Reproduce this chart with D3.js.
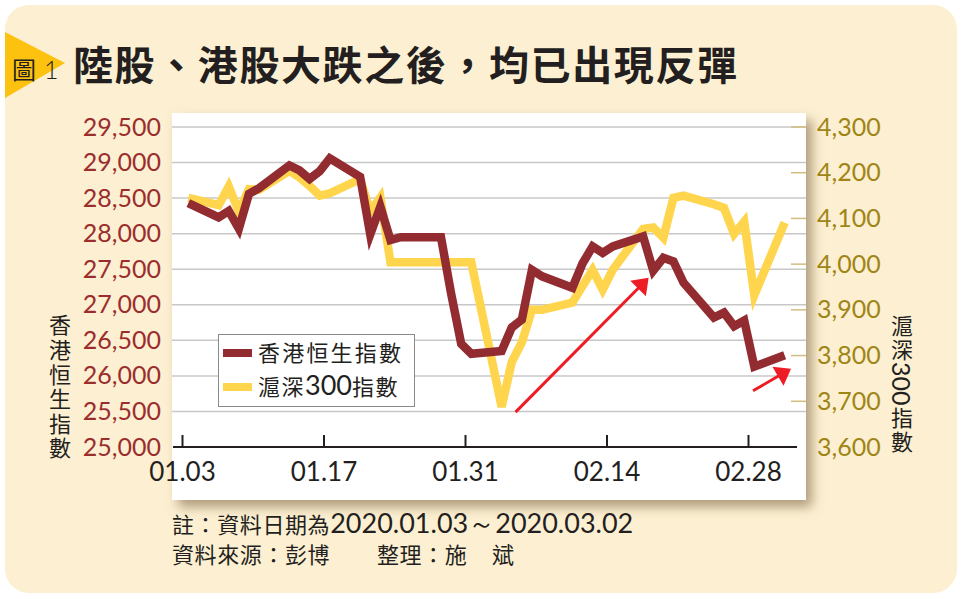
<!DOCTYPE html>
<html><head><meta charset="utf-8">
<script src="https://cdn.jsdelivr.net/npm/d3@7"></script>
<style>body{margin:0;background:#fff}</style>
</head><body><svg id="c" width="962" height="599"></svg>
<script>
// ---------- data ----------
const dates = ["2020-01-03","2020-01-06","2020-01-07","2020-01-08","2020-01-09","2020-01-10",
"2020-01-13","2020-01-14","2020-01-15","2020-01-16","2020-01-17",
"2020-01-20","2020-01-21","2020-01-22","2020-01-23","2020-01-24",
"2020-01-27","2020-01-28","2020-01-29","2020-01-30","2020-01-31",
"2020-02-03","2020-02-04","2020-02-05","2020-02-06","2020-02-07",
"2020-02-10","2020-02-11","2020-02-12","2020-02-13","2020-02-14",
"2020-02-17","2020-02-18","2020-02-19","2020-02-20","2020-02-21",
"2020-02-24","2020-02-25","2020-02-26","2020-02-27","2020-02-28","2020-03-02"];
const hsiValues = [28430,28230,28320,28070,28560,28640,
28960,28890,28770,28880,29060,
28800,27990,28380,27910,27950,
27950,27950,27160,26450,26310,
26350,26680,26790,27490,27400,
27240,27580,27820,27730,27820,
27960,27480,27660,27610,27310,
26820,26890,26700,26780,26130,26290];
const csiValues = [4145,4129,4170,4115,4164,4163,
4204,4190,4171,4150,4155,
4186,4115,4146,4004,4004,
4004,4004,4004,4004,4004,
3688,3786,3829,3900,3900,
3916,3952,3987,3944,3988,
4077,4080,4058,4145,4150,
4131,4123,4066,4093,3932,4091];
const seriesNames = ["香港恒生指數","滬深300指數"];
const leftTicks = [25000,25500,26000,26500,27000,27500,28000,28500,29000,29500];
const rightTicks = [3600,3700,3800,3900,4000,4100,4200,4300];
const xTickDates = ["2020-01-03","2020-01-17","2020-01-31","2020-02-14","2020-02-28"];
const xTickLabels = ["01.03","01.17","01.31","02.14","02.28"];
// annotation arrows (date, HSI-scale value)
const arrowStartDates = ["2020-02-05T00:00","2020-02-28T12:00"];
const arrowStartValues = [25490,25790];
const arrowEndDates = ["2020-02-18T04:00","2020-03-03T06:00"];
const arrowEndValues = [27380,26100];
const titleText = "陸股、港股大跌之後，均已出現反彈";
const figLabel = "圖";
const figNum = "1";
const leftTitle = "香港恒生指數";
const rightTitleParts = ["滬深","300","指數"];
const note1Cjk = "註：資料日期為";
const note1Num = "2020.01.03～2020.03.02";
const note2a = "資料來源：彭博";
const note2b = "整理：施";
const note2c = "斌";

// ---------- styles ----------
const CJK = "'Noto Sans CJK TC','Noto Sans CJK SC',sans-serif";
const NUM = "Lato,'Noto Sans',sans-serif";
const cHSI = "#932c30", cCSI = "#ffd54d", cArrow = "#ee1c25";
const cLeft = "#9b2d2d", cRight = "#a08516";

const svg = d3.select("#c");
const defs = svg.append("defs");
const f = defs.append("filter").attr("id","sh").attr("x","-10%").attr("y","-10%").attr("width","130%").attr("height","130%");
f.append("feDropShadow").attr("dx",6).attr("dy",7).attr("stdDeviation",6)
  .attr("flood-color","#7a6440").attr("flood-opacity",0.6);

// background
svg.append("rect").attr("x",5).attr("y",5).attr("width",952).attr("height",588).attr("rx",24).attr("fill","#fdf0d2");

// title marker
svg.append("polygon").attr("points","5,32 5,98 65,63").attr("fill","#fdc20f");
svg.append("text").attr("x",12).attr("y",79).attr("font-family",CJK).attr("font-size",24).attr("fill","#231f20").text(figLabel);
svg.append("text").attr("x",44).attr("y",79).attr("font-family",NUM).attr("font-size",25).attr("font-weight",300).attr("fill","#231f20").text(figNum);
svg.append("text").attr("x",73).attr("y",80).attr("font-family",CJK).attr("font-size",40).attr("font-weight",700)
  .attr("letter-spacing",1.6).attr("fill","#231f20").text(titleText);

// panel
const P = {l:172, t:113, r:806, b:500};
svg.append("rect").attr("x",P.l).attr("y",P.t).attr("width",P.r-P.l).attr("height",P.b-P.t)
  .attr("fill","#fff").attr("filter","url(#sh)");

// scales
const parse = s => new Date(s.length>10 ? s : s+"T00:00");
const x = d3.scaleTime().domain([parse("2020-01-03"),parse("2020-02-28")]).range([182,748]);
const yL = d3.scaleLinear().domain([25000,29500]).range([447,127]);
const yR = d3.scaleLinear().domain([3600,4300]).range([447,127]);
const pointDate = s => parse(s+"T15:00");

// gridlines
svg.append("g").selectAll("line").data(leftTicks.slice(1)).join("line")
  .attr("x1",P.l).attr("x2",P.r).attr("y1",d=>yL(d)).attr("y2",d=>yL(d))
  .attr("stroke","#c8c8c8").attr("stroke-width",1.5);
// right tick marks
svg.append("g").selectAll("line").data(rightTicks.slice(1)).join("line")
  .attr("x1",791).attr("x2",P.r).attr("y1",d=>yR(d)).attr("y2",d=>yR(d))
  .attr("stroke","#d2bd7e").attr("stroke-width",1.5);

// left axis labels
const gL = svg.append("g").attr("transform","translate(161,0)")
  .call(d3.axisLeft(yL).tickValues(leftTicks).tickFormat(d3.format(",")).tickSize(0).tickPadding(0));
gL.select(".domain").remove();
gL.selectAll("text").attr("font-family",NUM).attr("font-size",25).attr("fill",cLeft);

// right axis labels
const gR = svg.append("g").attr("transform","translate(817,0)")
  .call(d3.axisRight(yR).tickValues(rightTicks).tickFormat(d3.format(",")).tickSize(0).tickPadding(0));
gR.select(".domain").remove();
gR.selectAll("text").attr("font-family",NUM).attr("font-size",25).attr("fill",cRight);

// x axis
const gX = svg.append("g").attr("transform","translate(0,447)")
  .call(d3.axisBottom(x).tickValues(xTickDates.map(parse)).tickFormat((d,i)=>xTickLabels[i])
    .tickSizeInner(-12).tickSizeOuter(0).tickPadding(15.5));
gX.select(".domain").remove();
gX.selectAll(".tick line").attr("stroke","#231f20").attr("stroke-width",2);
gX.selectAll("text").attr("font-family",NUM).attr("font-size",26).attr("fill","#231f20");
svg.append("line").attr("x1",173).attr("x2",797).attr("y1",447).attr("y2",447)
  .attr("stroke","#231f20").attr("stroke-width",2.2);

// lines
const data = dates.map((d,i)=>({date:pointDate(d), hsi:hsiValues[i], csi:csiValues[i]}));
const lineCSI = d3.line().x(d=>x(d.date)).y(d=>yR(d.csi));
const lineHSI = d3.line().x(d=>x(d.date)).y(d=>yL(d.hsi));
svg.append("path").datum(data).attr("d",lineCSI).attr("fill","none").attr("stroke",cCSI)
  .attr("stroke-width",8.5).attr("stroke-linejoin","miter").attr("stroke-miterlimit",4);
svg.append("path").datum(data).attr("d",lineHSI).attr("fill","none").attr("stroke",cHSI)
  .attr("stroke-width",8.5).attr("stroke-linejoin","miter").attr("stroke-miterlimit",4);

// arrows
arrowStartDates.forEach((sd,i)=>{
  const x0 = x(parse(sd)), y0 = yL(arrowStartValues[i]);
  const x1 = x(parse(arrowEndDates[i])), y1 = yL(arrowEndValues[i]);
  const dx = x1-x0, dy = y1-y0, L = Math.hypot(dx,dy), ux = dx/L, uy = dy/L;
  const hl = 15, hw = 11;
  const bx = x1-ux*hl, by = y1-uy*hl;
  svg.append("line").attr("x1",x0).attr("y1",y0).attr("x2",bx+ux*2).attr("y2",by+uy*2)
    .attr("stroke",cArrow).attr("stroke-width",3);
  svg.append("polygon").attr("points",[[x1,y1],[bx-uy*hw,by+ux*hw],[bx+uy*hw,by-ux*hw]].map(p=>p.join(",")).join(" "))
    .attr("fill",cArrow);
});

// legend
const lg = svg.append("g");
lg.append("rect").attr("x",218.5).attr("y",334.5).attr("width",196).attr("height",72)
  .attr("fill","#fff").attr("stroke","#8a8a8a").attr("stroke-width",1);
[cHSI,cCSI].forEach((c,i)=>{
  const yy = 353 + i*34;
  lg.append("line").attr("x1",223).attr("x2",252).attr("y1",yy).attr("y2",yy).attr("stroke",c).attr("stroke-width",8);
});
lg.append("text").attr("x",258).attr("y",361).attr("font-family",CJK).attr("font-size",22)
  .attr("letter-spacing",2.2).attr("fill","#231f20").text(seriesNames[0]);
const t2 = lg.append("text").attr("x",258).attr("y",395).attr("fill","#231f20");
t2.append("tspan").attr("font-family",CJK).attr("font-size",22).attr("letter-spacing",1.5).text(seriesNames[1].slice(0,2));
t2.append("tspan").attr("font-family",NUM).attr("font-size",27).text(seriesNames[1].slice(2,5));
t2.append("tspan").attr("font-family",CJK).attr("font-size",22).attr("letter-spacing",1.5).text(seriesNames[1].slice(5));

// vertical axis titles (single vertical text each)
svg.append("text").attr("x",60).attr("y",314)
  .style("writing-mode","vertical-rl").style("text-orientation","mixed")
  .attr("font-family",CJK).attr("font-size",22).attr("letter-spacing",2.6).attr("fill","#231f20").text(leftTitle);
const rt = svg.append("text").attr("x",902).attr("y",315)
  .style("writing-mode","vertical-rl").style("text-orientation","mixed").attr("fill","#231f20");
rt.append("tspan").attr("font-family",CJK).attr("font-size",22).attr("letter-spacing",1.5).text(rightTitleParts[0]);
rt.append("tspan").attr("font-family",NUM).attr("font-size",25).text(rightTitleParts[1]);
rt.append("tspan").attr("font-family",CJK).attr("font-size",22).attr("letter-spacing",1.5).attr("dy",1).text(rightTitleParts[2]);

// notes
const n1 = svg.append("text").attr("x",172).attr("y",533).attr("fill","#231f20");
n1.append("tspan").attr("font-family",CJK).attr("font-size",22).attr("letter-spacing",0.6).text(note1Cjk);
n1.append("tspan").attr("font-family",NUM).attr("font-size",27).text(note1Num);
svg.append("text").attr("x",172).attr("y",563).attr("font-family",CJK).attr("font-size",22).attr("letter-spacing",0.6).attr("fill","#231f20").text(note2a);
svg.append("text").attr("x",377).attr("y",563).attr("font-family",CJK).attr("font-size",22).attr("letter-spacing",0.6).attr("fill","#231f20").text(note2b);
svg.append("text").attr("x",492).attr("y",563).attr("font-family",CJK).attr("font-size",22).attr("fill","#231f20").text(note2c);
</script></body></html>
